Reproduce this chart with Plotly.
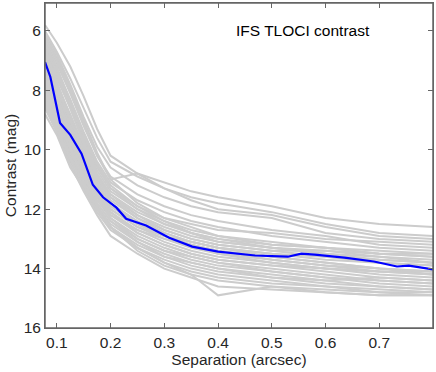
import plotly.graph_objects as go

# separation grid (arcsec) shared by the individual contrast curves
sep = [0.078, 0.1, 0.125, 0.15, 0.175, 0.2, 0.25, 0.3, 0.35, 0.4, 0.5, 0.6, 0.7, 0.8]

# individual TLOCI contrast curves (mag)
curves = [
    [5.8, 6.4, 7.2, 8.2, 9.3, 10.2, 10.8, 11.1, 11.4, 11.6, 11.9, 12.3, 12.5, 12.6],
    [6.0, 6.7, 7.6, 8.6, 9.6, 10.4, 10.9, 11.3, 11.6, 11.8, 12.1, 12.5, 12.8, 12.9],
    [6.2, 6.9, 7.9, 9.0, 10.1, 11.0, 10.8, 11.3, 11.7, 12.0, 12.2, 12.6, 12.9, 13.0],
    [6.1, 6.8, 7.8, 8.9, 9.9, 10.6, 11.2, 11.6, 11.9, 12.1, 12.3, 12.8, 13.0, 13.1],
    [6.3, 7.1, 8.1, 9.2, 10.2, 10.9, 11.5, 11.9, 12.2, 12.4, 12.7, 12.9, 13.2, 13.3],
    [6.5, 7.3, 8.3, 9.4, 10.4, 11.1, 11.7, 12.1, 12.4, 12.6, 12.9, 13.1, 13.3, 13.4],
    [6.4, 7.2, 8.4, 9.6, 10.6, 11.3, 11.9, 12.3, 12.5, 12.7, 12.8, 13.0, 13.1, 13.2],
    [6.7, 7.6, 8.6, 9.7, 10.7, 11.4, 12.0, 12.4, 12.7, 12.9, 13.1, 13.3, 13.5, 13.6],
    [6.9, 7.8, 8.8, 9.9, 10.9, 11.6, 12.2, 12.6, 12.9, 13.1, 13.3, 13.5, 13.6, 13.7],
    [7.0, 8.0, 9.1, 10.1, 11.0, 11.7, 12.3, 12.7, 13.0, 13.2, 13.4, 13.6, 13.8, 13.9],
    [6.8, 7.7, 8.9, 10.0, 10.9, 11.5, 12.1, 12.5, 12.8, 13.0, 13.3, 13.4, 13.6, 13.8],
    [7.2, 8.2, 9.3, 10.3, 11.2, 11.9, 12.5, 12.9, 13.2, 13.4, 13.6, 13.8, 14.0, 14.1],
    [7.4, 8.4, 9.5, 10.5, 11.4, 12.0, 12.6, 13.0, 13.3, 13.5, 13.7, 13.9, 14.1, 14.2],
    [7.1, 8.1, 9.2, 10.2, 11.1, 11.8, 12.4, 12.8, 13.1, 13.3, 13.5, 13.6, 13.7, 13.8],
    [7.5, 8.5, 9.6, 10.6, 11.5, 12.1, 12.7, 13.1, 13.4, 13.6, 13.8, 14.0, 14.2, 14.3],
    [7.6, 8.7, 9.8, 10.8, 11.6, 12.2, 12.8, 13.2, 13.5, 13.7, 13.9, 14.1, 14.3, 14.4],
    [7.3, 8.3, 9.4, 10.4, 11.3, 12.0, 12.6, 12.9, 13.1, 13.3, 13.5, 13.7, 13.8, 13.9],
    [7.8, 8.8, 9.9, 10.9, 11.7, 12.3, 12.9, 13.3, 13.6, 13.8, 14.0, 14.2, 14.4, 14.5],
    [8.0, 9.0, 10.1, 11.0, 11.8, 12.4, 13.0, 13.4, 13.7, 13.9, 14.1, 14.3, 14.5, 14.6],
    [8.2, 9.2, 10.2, 11.1, 11.9, 12.5, 13.1, 13.6, 13.9, 14.1, 14.3, 14.5, 14.6, 14.7],
    [8.4, 9.3, 10.4, 11.3, 12.1, 12.7, 13.3, 13.8, 14.1, 14.3, 14.5, 14.6, 14.7, 14.8],
    [8.6, 9.4, 10.5, 11.4, 12.2, 12.9, 13.5, 14.0, 14.3, 14.6, 14.7, 14.8, 14.9, 14.9],
    [7.9, 8.9, 10.0, 10.9, 11.8, 12.4, 13.1, 13.5, 13.8, 14.0, 14.2, 14.4, 14.6, 14.7],
    [8.8, 9.5, 10.6, 11.3, 12.0, 12.6, 13.3, 13.8, 14.2, 14.9, 14.6, 14.8, 14.9, 14.9],
    [6.6, 7.5, 8.6, 9.8, 10.8, 11.5, 12.2, 12.7, 13.0, 13.2, 13.4, 13.4, 13.5, 13.5],
    [7.7, 8.6, 9.7, 10.7, 11.5, 12.2, 12.7, 13.0, 13.2, 13.4, 13.7, 13.9, 14.0, 14.2],
    [6.9, 7.9, 9.0, 10.1, 11.1, 11.8, 12.5, 12.9, 13.2, 13.5, 13.8, 14.0, 14.1, 14.2],
    [6.2, 7.0, 8.0, 9.1, 10.2, 11.0, 11.8, 12.3, 12.6, 12.9, 13.2, 13.3, 13.4, 13.5],
    [8.1, 9.1, 10.2, 11.2, 12.0, 12.6, 13.2, 13.6, 13.8, 14.0, 14.3, 14.4, 14.3, 14.4],
    [7.5, 8.5, 9.5, 10.5, 11.4, 12.1, 12.8, 13.2, 13.5, 13.7, 13.9, 14.0, 14.1, 14.1],
    [8.3, 9.2, 10.3, 11.2, 11.9, 12.6, 13.3, 13.7, 14.0, 14.2, 14.4, 14.6, 14.8, 14.8],
    [7.0, 7.9, 9.0, 10.0, 10.9, 11.6, 12.3, 12.8, 13.1, 13.3, 13.6, 13.8, 14.0, 14.1],
    [6.6, 7.4, 8.5, 9.5, 10.5, 11.2, 11.9, 12.4, 12.8, 13.0, 13.2, 13.3, 13.5, 13.6],
    [7.6, 8.6, 9.7, 10.7, 11.6, 12.3, 13.0, 13.4, 13.6, 13.8, 14.1, 14.3, 14.4, 14.5],
    [8.5, 9.3, 10.3, 11.1, 11.9, 12.6, 13.4, 13.9, 14.2, 14.4, 14.6, 14.7, 14.8, 14.9],
    [6.4, 7.3, 8.4, 9.5, 10.5, 11.3, 12.0, 12.5, 12.8, 13.1, 13.3, 13.5, 13.7, 13.8],
]

# median curve
median_sep = [0.078, 0.088, 0.106, 0.125, 0.146, 0.167, 0.186, 0.211, 0.229, 0.266,
              0.309, 0.352, 0.4, 0.469, 0.53, 0.555, 0.58, 0.635, 0.69, 0.733,
              0.755, 0.8]
median_con = [7.05, 7.55, 9.1, 9.5, 10.13, 11.18, 11.6, 11.95, 12.32, 12.55,
              12.96, 13.26, 13.43, 13.56, 13.6, 13.5, 13.53, 13.63, 13.76, 13.93,
              13.9, 14.03]

x_ticks = [0.1, 0.2, 0.3, 0.4, 0.5, 0.6, 0.7]
y_ticks = [6, 8, 10, 12, 14, 16]

font = 'Liberation Sans, Arial, sans-serif'
fsize = 15.5
frame = '#666666'

fig = go.Figure()

for c in curves:
    fig.add_trace(go.Scatter(x=sep, y=c, mode='lines',
                             line=dict(color='#cccccc', width=2),
                             hoverinfo='skip', showlegend=False))

fig.add_trace(go.Scatter(x=median_sep, y=median_con, mode='lines',
                         line=dict(color='#0000ff', width=2.2),
                         showlegend=False))

fig.add_annotation(x=0.43, y=6.0, text='IFS TLOCI contrast', showarrow=False,
                   xanchor='left', yanchor='middle',
                   font=dict(family=font, size=fsize, color='#000000'))

# box round the axes
fig.add_shape(type='rect', xref='paper', yref='paper', x0=0, x1=1, y0=0, y1=1,
              line=dict(color=frame, width=1.5), layer='above')

axis_style = dict(showline=True, linecolor=frame, linewidth=1, mirror='ticks',
                  ticks='inside', ticklen=5, tickcolor=frame, showgrid=False,
                  zeroline=False, tickfont=dict(family=font, size=fsize, color='#262626'))

fig.update_xaxes(range=[0.078, 0.8], tickvals=x_ticks,
                 title=dict(text='Separation (arcsec)', standoff=4,
                            font=dict(family=font, size=fsize, color='#262626')),
                 **axis_style)
fig.update_yaxes(range=[16, 5.06], tickvals=y_ticks,
                 title=dict(text='Contrast (mag)', standoff=3,
                            font=dict(family=font, size=fsize, color='#262626')),
                 **axis_style)

fig.update_layout(width=436, height=372, margin=dict(l=45, r=3, t=3, b=44),
                  plot_bgcolor='white', paper_bgcolor='white')

# drop the browser's default page margin so the figure sits at the corner
fig.write_html("out.html", config={'displayModeBar': False},
               post_script="document.body.style.margin='0px';")
